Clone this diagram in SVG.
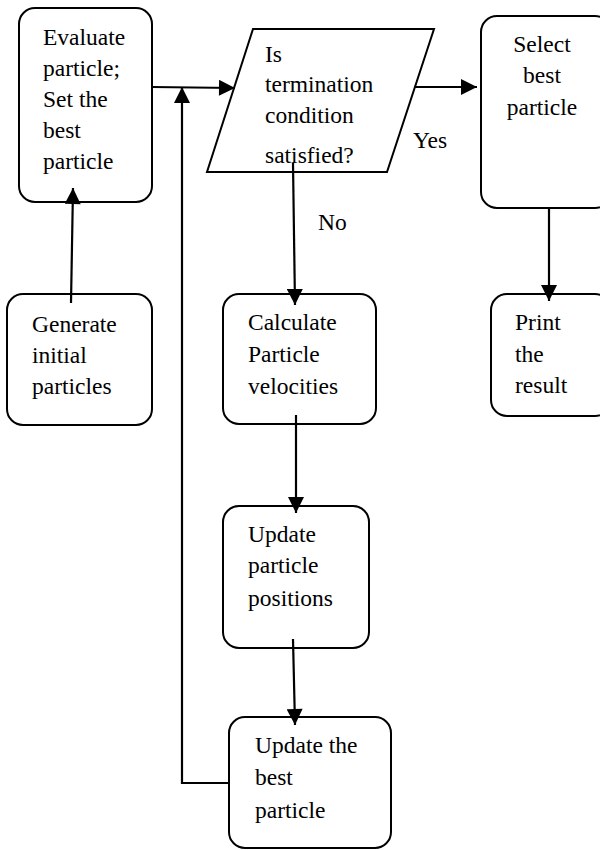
<svg xmlns="http://www.w3.org/2000/svg" width="600" height="850" viewBox="0 0 600 850">
<defs>
<style>
.box{fill:#fff;stroke:#000;stroke-width:2}
.t{font-family:"Liberation Serif","Times New Roman",serif;font-size:23.5px;fill:#000}
.c{text-anchor:middle}
.ln{fill:none;stroke:#000;stroke-width:2.2}
</style>
<marker id="ah" markerUnits="userSpaceOnUse" markerWidth="18" markerHeight="16" viewBox="0 0 16 16" refX="16" refY="8" orient="auto">
<path d="M0,0 L16,8 L0,16 Z" fill="#000"/>
</marker>
</defs>
<rect width="600" height="850" fill="#fff"/>
<g id="n-evaluate">
<rect class="box" x="19" y="8" width="133" height="194" rx="16"/>
<text class="t" x="43" y="45">Evaluate</text>
<text class="t" x="43" y="76">particle;</text>
<text class="t" x="43" y="107">Set the</text>
<text class="t" x="43" y="138">best</text>
<text class="t" x="43" y="169">particle</text>
</g>
<g id="n-generate">
<rect class="box" x="7" y="294" width="145" height="131" rx="16"/>
<text class="t" x="32" y="332">Generate</text>
<text class="t" x="32" y="363">initial</text>
<text class="t" x="32" y="394">particles</text>
</g>
<g id="n-decision">
<polygon class="box" points="253,29 434,29 387,172 207,172"/>
<text class="t" x="265" y="62">Is</text>
<text class="t" x="265" y="92">termination</text>
<text class="t" x="265" y="123">condition</text>
<text class="t" x="265" y="163">satisfied?</text>
</g>
<g id="n-select">
<rect class="box" x="481" y="16" width="130" height="192" rx="16"/>
<text class="t c" x="542" y="52">Select</text>
<text class="t c" x="542" y="83">best</text>
<text class="t c" x="542" y="115">particle</text>
</g>
<g id="n-print">
<rect class="box" x="491" y="294" width="120" height="122" rx="16"/>
<text class="t" x="515" y="330">Print</text>
<text class="t" x="515" y="362">the</text>
<text class="t" x="515" y="393">result</text>
</g>
<g id="n-velocities">
<rect class="box" x="223" y="294" width="153" height="130" rx="16"/>
<text class="t" x="248" y="330">Calculate</text>
<text class="t" x="248" y="362">Particle</text>
<text class="t" x="248" y="394">velocities</text>
</g>
<g id="n-positions">
<rect class="box" x="223" y="506" width="146" height="142" rx="16"/>
<text class="t" x="248" y="542">Update</text>
<text class="t" x="248" y="573">particle</text>
<text class="t" x="248" y="606">positions</text>
</g>
<g id="n-updatebest">
<rect class="box" x="229" y="717" width="162" height="131" rx="16"/>
<text class="t" x="255" y="753">Update the</text>
<text class="t" x="255" y="785">best</text>
<text class="t" x="255" y="818">particle</text>
</g>
<g id="connectors">
<line class="ln" x1="71" y1="303" x2="73" y2="188" marker-end="url(#ah)"/>
<line class="ln" x1="152" y1="87" x2="235" y2="88" marker-end="url(#ah)"/>
<polyline class="ln" points="230,783 182,783 182,87" marker-end="url(#ah)"/>
<line class="ln" x1="414" y1="87" x2="477" y2="87" marker-end="url(#ah)"/>
<line class="ln" x1="293" y1="163" x2="295" y2="305" marker-end="url(#ah)"/>
<line class="ln" x1="549" y1="208" x2="549" y2="301" marker-end="url(#ah)"/>
<line class="ln" x1="296" y1="415" x2="296" y2="513" marker-end="url(#ah)"/>
<line class="ln" x1="293" y1="639" x2="295" y2="725" marker-end="url(#ah)"/>
<text class="t" x="413" y="148">Yes</text>
<text class="t" x="318" y="230">No</text>
</g>
</svg>
